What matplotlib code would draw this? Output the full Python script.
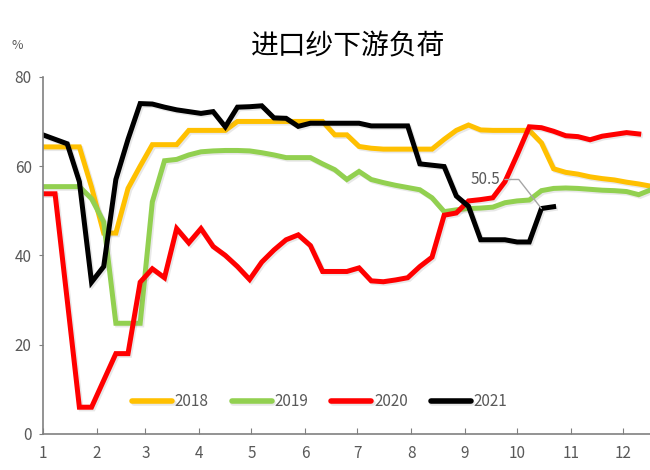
import numpy as np
import matplotlib.pyplot as plt
import matplotlib.patheffects as pe

plt.rcParams['font.family'] = ['Noto Sans CJK SC', 'DejaVu Sans']

# weekly load values (%), week 0 = start of January
y2018 = [64.3, 64.3, 64.3, 64.3, 55.3, 45, 45, 55, 60, 64.8,
         64.8, 64.8, 68, 68, 68, 68, 70, 70, 70, 70,
         70, 70, 70, 70, 67, 67, 64.4, 64, 63.8, 63.8,
         63.8, 63.8, 63.8, 66, 68, 69.2, 68.1, 68, 68, 68,
         68, 65.2, 59.4, 58.6, 58.2, 57.6, 57.2, 56.9, 56.4, 56,
         55.5]
y2019 = [55.4, 55.4, 55.4, 55.4, 52.7, 47.5, 24.8, 24.8, 24.8, 52,
         61.2, 61.5, 62.5, 63.2, 63.4, 63.5, 63.5, 63.4, 63, 62.5,
         61.9, 61.9, 61.9, 60.5, 59.2, 57, 58.8, 57, 56.3, 55.7,
         55.2, 54.7, 52.9, 49.8, 50.2, 50.5, 50.6, 50.8, 51.8, 52.2,
         52.4, 54.5, 55, 55.1, 55, 54.8, 54.6, 54.5, 54.3, 53.6,
         54.7]
y2020 = [53.8, 53.8, 30, 6, 6, 12, 18, 18, 34, 37,
         35, 46, 42.8, 46, 42, 40, 37.5, 34.6, 38.5, 41.2,
         43.5, 44.6, 42.2, 36.4, 36.4, 36.4, 37.2, 34.3, 34.1, 34.5,
         35, 37.5, 39.6, 49, 49.5, 52.2, 52.5, 52.9, 56.5, 62.5,
         68.8, 68.6, 67.8, 66.8, 66.6, 65.9, 66.7, 67.1, 67.5, 67.2]
y2021 = [67, 66, 65, 56.5, 34, 37.5, 57, 66, 74, 73.9,
         73.2, 72.6, 72.2, 71.8, 72.2, 68.8, 73.2, 73.3, 73.5, 70.8,
         70.7, 68.9, 69.6, 69.6, 69.6, 69.6, 69.6, 69, 69, 69,
         69, 60.5, 60.2, 59.9, 53.3, 51, 43.5, 43.5, 43.5, 43,
         43, 50.5, 50.9]

years = ['2018', '2019', '2020', '2021']
colors = ['#FFC000', '#92D050', '#FF0000', '#000000']
month_start = [0, 31, 59, 90, 120, 151, 181, 212, 243, 273, 304, 334]
month_labels = [str(m) for m in range(1, 13)]

fig = plt.figure(figsize=(6.5, 4.7), dpi=100)
ax = fig.add_axes([0.066, 0.0766, 0.934, 0.76])

shadow = [pe.SimpleLineShadow(offset=(1.2, -1.2), alpha=0.18, shadow_color='gray'),
          pe.Normal()]
for name, vals, c in zip(years, [y2018, y2019, y2020, y2021], colors):
    days = np.arange(len(vals)) * 7
    ax.plot(days, vals, color=c, lw=3.6, label=name,
            solid_joinstyle='miter', path_effects=shadow)

# label on the last-but-one 2021 point
d21 = (len(y2021) - 2) * 7
ax.annotate('50.5', xy=(d21, y2021[-2]), xytext=(d21 - 32, 57.0),
            color='#595959', fontsize=11, ha='center', va='center',
            arrowprops=dict(arrowstyle='-', color='#A6A6A6', lw=1,
                            shrinkA=1, shrinkB=0, relpos=(1, 0.5),
                            connectionstyle='angle,angleA=0,angleB=128,rad=0'))

ax.set_xlim(0, 349.5)
ax.set_ylim(0, 80)
ax.set_yticks([0, 20, 40, 60, 80])
ax.set_xticks(month_start)
ax.set_xticklabels(month_labels)

for s in ['top', 'right']:
    ax.spines[s].set_visible(False)
for s in ['left', 'bottom']:
    ax.spines[s].set_color('#808080')
    ax.spines[s].set_linewidth(1.2)
ax.tick_params(axis='y', direction='out', length=3, color='#808080',
               labelsize=11, labelcolor='#595959', pad=5)
ax.tick_params(axis='x', direction='in', length=4, color='#808080',
               labelsize=11, labelcolor='#595959', pad=8)

leg = ax.legend(loc='center', bbox_to_anchor=(0.456, 0.09), ncol=4,
                frameon=False, fontsize=11, handlelength=2.6,
                columnspacing=1.5, handletextpad=0.2)
for t in leg.get_texts():
    t.set_color('#595959')
for h in leg.get_lines():
    h.set_linewidth(4)
    h.set_solid_capstyle('round')

fig.text(0.535, 0.902, '进口纱下游负荷', fontsize=20, ha='center',
         va='center', color='black')
fig.text(0.026, 0.904, '%', fontsize=9, ha='center', va='center',
         color='#595959')

fig.savefig('out.png', dpi=100)
